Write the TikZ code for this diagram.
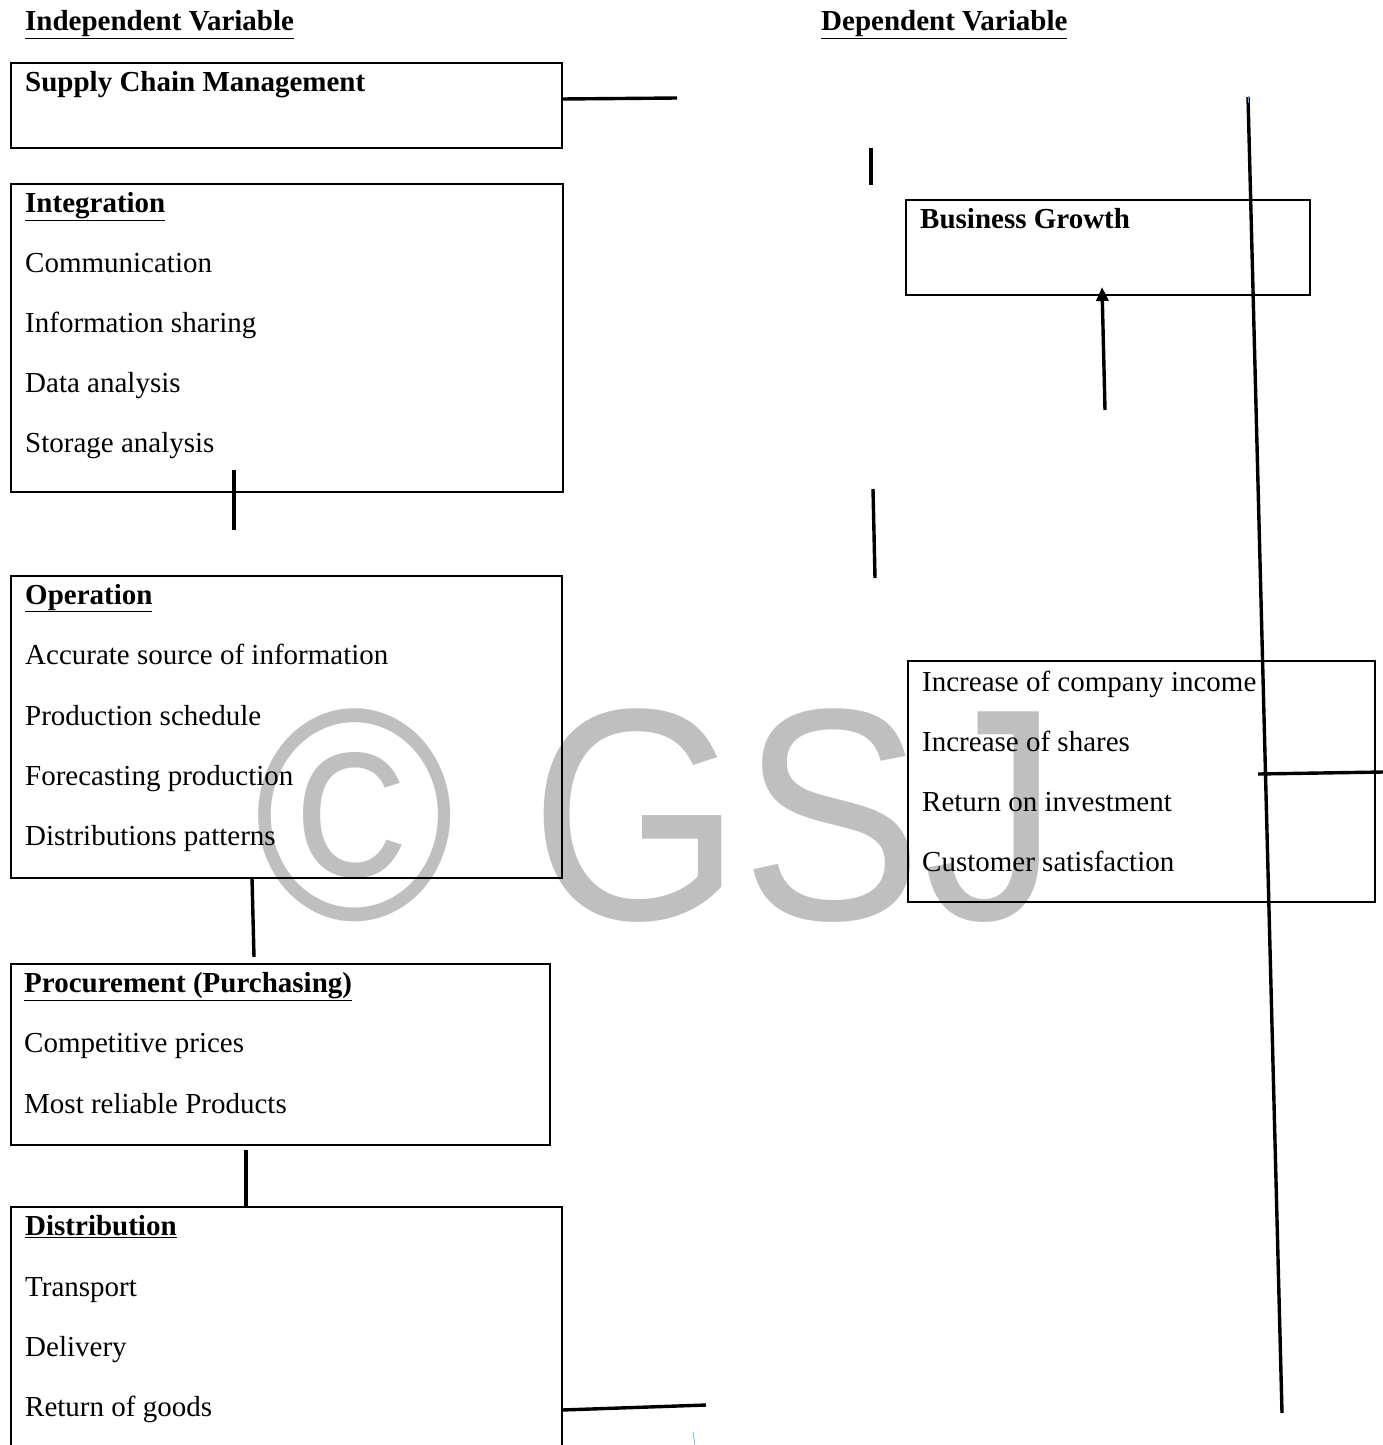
\documentclass[tikz,border=0pt]{standalone}
\usepackage{fontspec}
\setmainfont{Liberation Serif}
\newfontfamily\markfont{Liberation Sans}
\usetikzlibrary{arrows.meta,positioning}
\tikzset{>={Triangle[length=14pt,width=12pt]}}

\begin{document}
\begin{tikzpicture}[x=1pt,y=1pt,
                    mybox/.style={draw, line width=1.6pt, anchor=north west,
                                  inner sep=0pt, outer sep=0pt},
                    txt/.style={anchor=base west, inner sep=0pt, yshift=-2pt,
                                font=\fontsize{29}{35}\selectfont},
                    head/.style={txt, font=\fontsize{29}{35}\selectfont\bfseries},
                    mysolid/.style={line width=3.4pt, black},
                    mythin/.style={line width=0.6pt, blue!50!cyan!70!white},
                    wmark/.style={anchor=base west, inner sep=0pt, text=black!25,
                                 font=\markfont\fontsize{272}{272}\selectfont,
                                 yscale=1.11, transform shape},
                   ]

\clip (0,0) rectangle (1383,-1445);

% watermark
\node[wmark] (gsj) at (254,-919) {© GSJ};

% headings
\node[head] (indep) at (25,-29) {\underline{Independent Variable}};
\node[head] (dep) at (821,-29) {\underline{Dependent Variable}};

% left column
\node[mybox, minimum width=551, minimum height=85] (scm) at (11,-63) {};
\node[head] (scmt) at (25,-90) {Supply Chain Management};

\node[mybox, minimum width=552, minimum height=308] (integ) at (11,-184) {};
\node[head] (integt) at (25,-210) {\underline{Integration}};
\node[txt] (integ1) at (25,-270) {Communication};
\node[txt] (integ2) at (25,-330) {Information sharing};
\node[txt] (integ3) at (25,-390) {Data analysis};
\node[txt] (integ4) at (25,-450) {Storage analysis};

\node[mybox, minimum width=551, minimum height=302] (oper) at (11,-576) {};
\node[head] (opert) at (25,-602) {\underline{Operation}};
\node[txt] (oper1) at (25,-662) {Accurate source of information};
\node[txt] (oper2) at (25,-723) {Production schedule};
\node[txt] (oper3) at (25,-783) {Forecasting production};
\node[txt] (oper4) at (25,-843) {Distributions patterns};

\node[mybox, minimum width=539, minimum height=181] (proc) at (11,-964) {};
\node[head] (proct) at (24,-990) {\underline{Procurement (Purchasing)}};
\node[txt] (proc1) at (24,-1050) {Competitive prices};
\node[txt] (proc2) at (24,-1111) {Most reliable Products};

\node[mybox, minimum width=551, minimum height=260] (distr) at (11,-1207) {};
\node[head] (distrt) at (25,-1233) {\underline{Distribution}};
\node[txt] (distr1) at (25,-1294) {Transport};
\node[txt] (distr2) at (25,-1354) {Delivery};
\node[txt] (distr3) at (25,-1414) {Return of goods};

% right column
\node[mybox, minimum width=404, minimum height=95] (growth) at (906,-200) {};
\node[head] (growtht) at (920,-226) {Business Growth};

\node[mybox, minimum width=467, minimum height=241] (outc) at (908,-661) {};
\node[txt] (outc1) at (922,-689) {Increase of company income};
\node[txt] (outc2) at (922,-749) {Increase of shares};
\node[txt] (outc3) at (922,-809) {Return on investment};
\node[txt] (outc4) at (922,-869) {Customer satisfaction};

% loose line ends
\coordinate (a1) at (562,-99);   \coordinate (a2) at (677,-98);
\coordinate (b1) at (234,-470);  \coordinate (b2) at (234,-530);
\coordinate (c1) at (252,-878);  \coordinate (c2) at (254,-957);
\coordinate (d1) at (246,-1150); \coordinate (d2) at (246,-1207);
\coordinate (e1) at (562,-1410); \coordinate (e2) at (706,-1405);
\coordinate (f1) at (871,-148);  \coordinate (f2) at (871,-185);
\coordinate (g1) at (873,-489);  \coordinate (g2) at (875,-578);
\coordinate (h1) at (1105,-410); \coordinate (h2) at (1102,-287);
\coordinate (k1) at (1248,-97);  \coordinate (k2) at (1282,-1413);
\coordinate (m1) at (1258,-774); \coordinate (m2) at (1383,-772);
\coordinate (n1) at (693,-1432); \coordinate (n2) at (695,-1445);
\coordinate (p1) at (1248,-96);  \coordinate (p2) at (1248,-103);

\draw[mysolid] (a1) -- (a2);
\draw[mysolid] (b1) -- (b2);
\draw[mysolid] (c1) -- (c2);
\draw[mysolid] (d1) -- (d2);
\draw[mysolid] (e1) -- (e2);
\draw[mysolid] (f1) -- (f2);
\draw[mysolid] (g1) -- (g2);
\draw[mysolid,->] (h1) -- (h2);
\draw[mysolid] (k1) -- (k2);
\draw[mysolid] (m1) -- (m2);
\draw[mythin] (n1) -- (n2);
\draw[mythin] (p1) -- (p2);

\end{tikzpicture}
\end{document}
